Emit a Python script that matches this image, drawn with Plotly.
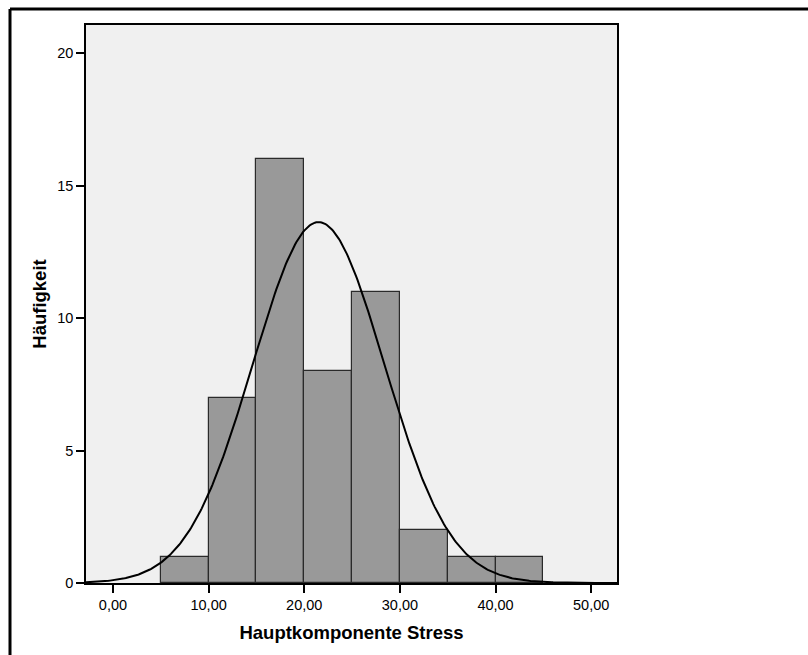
import numpy as np
import plotly.graph_objects as go

# Data
bin_starts = [5, 10, 15, 20, 25, 30, 35, 40]
bin_width = 5
counts = [1, 7, 16, 8, 11, 2, 1, 1]
n_total = sum(counts)
curve_mean = 21.5
curve_sd = 6.88

x_tickvals = [0, 10, 20, 30, 40, 50]
x_ticktext = ["0,00", "10,00", "20,00", "30,00", "40,00", "50,00"]
y_tickvals = [0, 5, 10, 15, 20]
y_ticktext = ["0", "5", "10", "15", "20"]

x_range = [-2.82, 52.7]
y_range = [0, 21.07]

W, H = 808, 655
L, R, T, B = 86, 617, 25, 583

mids = [s + bin_width / 2 for s in bin_starts]
xs = np.linspace(x_range[0], x_range[1], 400)
ys = n_total * bin_width / (curve_sd * np.sqrt(2 * np.pi)) * np.exp(-((xs - curve_mean) ** 2) / (2 * curve_sd ** 2))

fig = go.Figure()
fig.add_trace(go.Bar(
    x=mids, y=counts, width=bin_width,
    marker=dict(color="#999999", line=dict(color="#2a2a2a", width=1.2)),
    hoverinfo="skip",
))
fig.add_trace(go.Scatter(
    x=xs, y=ys, mode="lines", line=dict(color="black", width=2),
    hoverinfo="skip",
))

pw, ph = R - L, B - T
def px_x(p):
    return (p - L) / pw
def px_y(p):
    return (B - p) / ph

# outer frame (left and top lines only visible)
fig.add_shape(type="line", xref="paper", yref="paper",
              x0=px_x(10), x1=px_x(812), y0=px_y(9), y1=px_y(9),
              line=dict(color="black", width=3))
fig.add_shape(type="line", xref="paper", yref="paper",
              x0=px_x(10), x1=px_x(10), y0=px_y(9), y1=px_y(660),
              line=dict(color="black", width=3))

font_fam = "Liberation Sans, Arial, sans-serif"
fig.update_layout(
    width=W, height=H,
    margin=dict(l=L, r=W - R, t=T, b=H - B),
    paper_bgcolor="white",
    plot_bgcolor="#F0F0F0",
    showlegend=False,
    bargap=0,
    font=dict(family=font_fam, size=14, color="black"),
    xaxis=dict(
        range=x_range, tickvals=x_tickvals, ticktext=x_ticktext,
        ticks="outside", ticklen=8, tickwidth=1.5, tickcolor="black",
        showgrid=False, zeroline=False,
        showline=True, linecolor="black", linewidth=1.5, mirror=True,
        tickfont=dict(family=font_fam, size=14.5),
        title=dict(text="<b>Hauptkomponente Stress</b>", font=dict(size=18.5), standoff=14),
    ),
    yaxis=dict(
        range=y_range, tickvals=y_tickvals, ticktext=y_ticktext,
        ticks="outside", ticklen=8, tickwidth=1.5, tickcolor="black",
        ticklabelstandoff=0,
        showgrid=False, zeroline=False,
        showline=True, linecolor="black", linewidth=1.5, mirror=True,
        tickfont=dict(family=font_fam, size=14.5),
        title=dict(text="<b>Häufigkeit</b>", font=dict(size=18.5), standoff=6),
    ),
)

fig.write_html("out.html")
